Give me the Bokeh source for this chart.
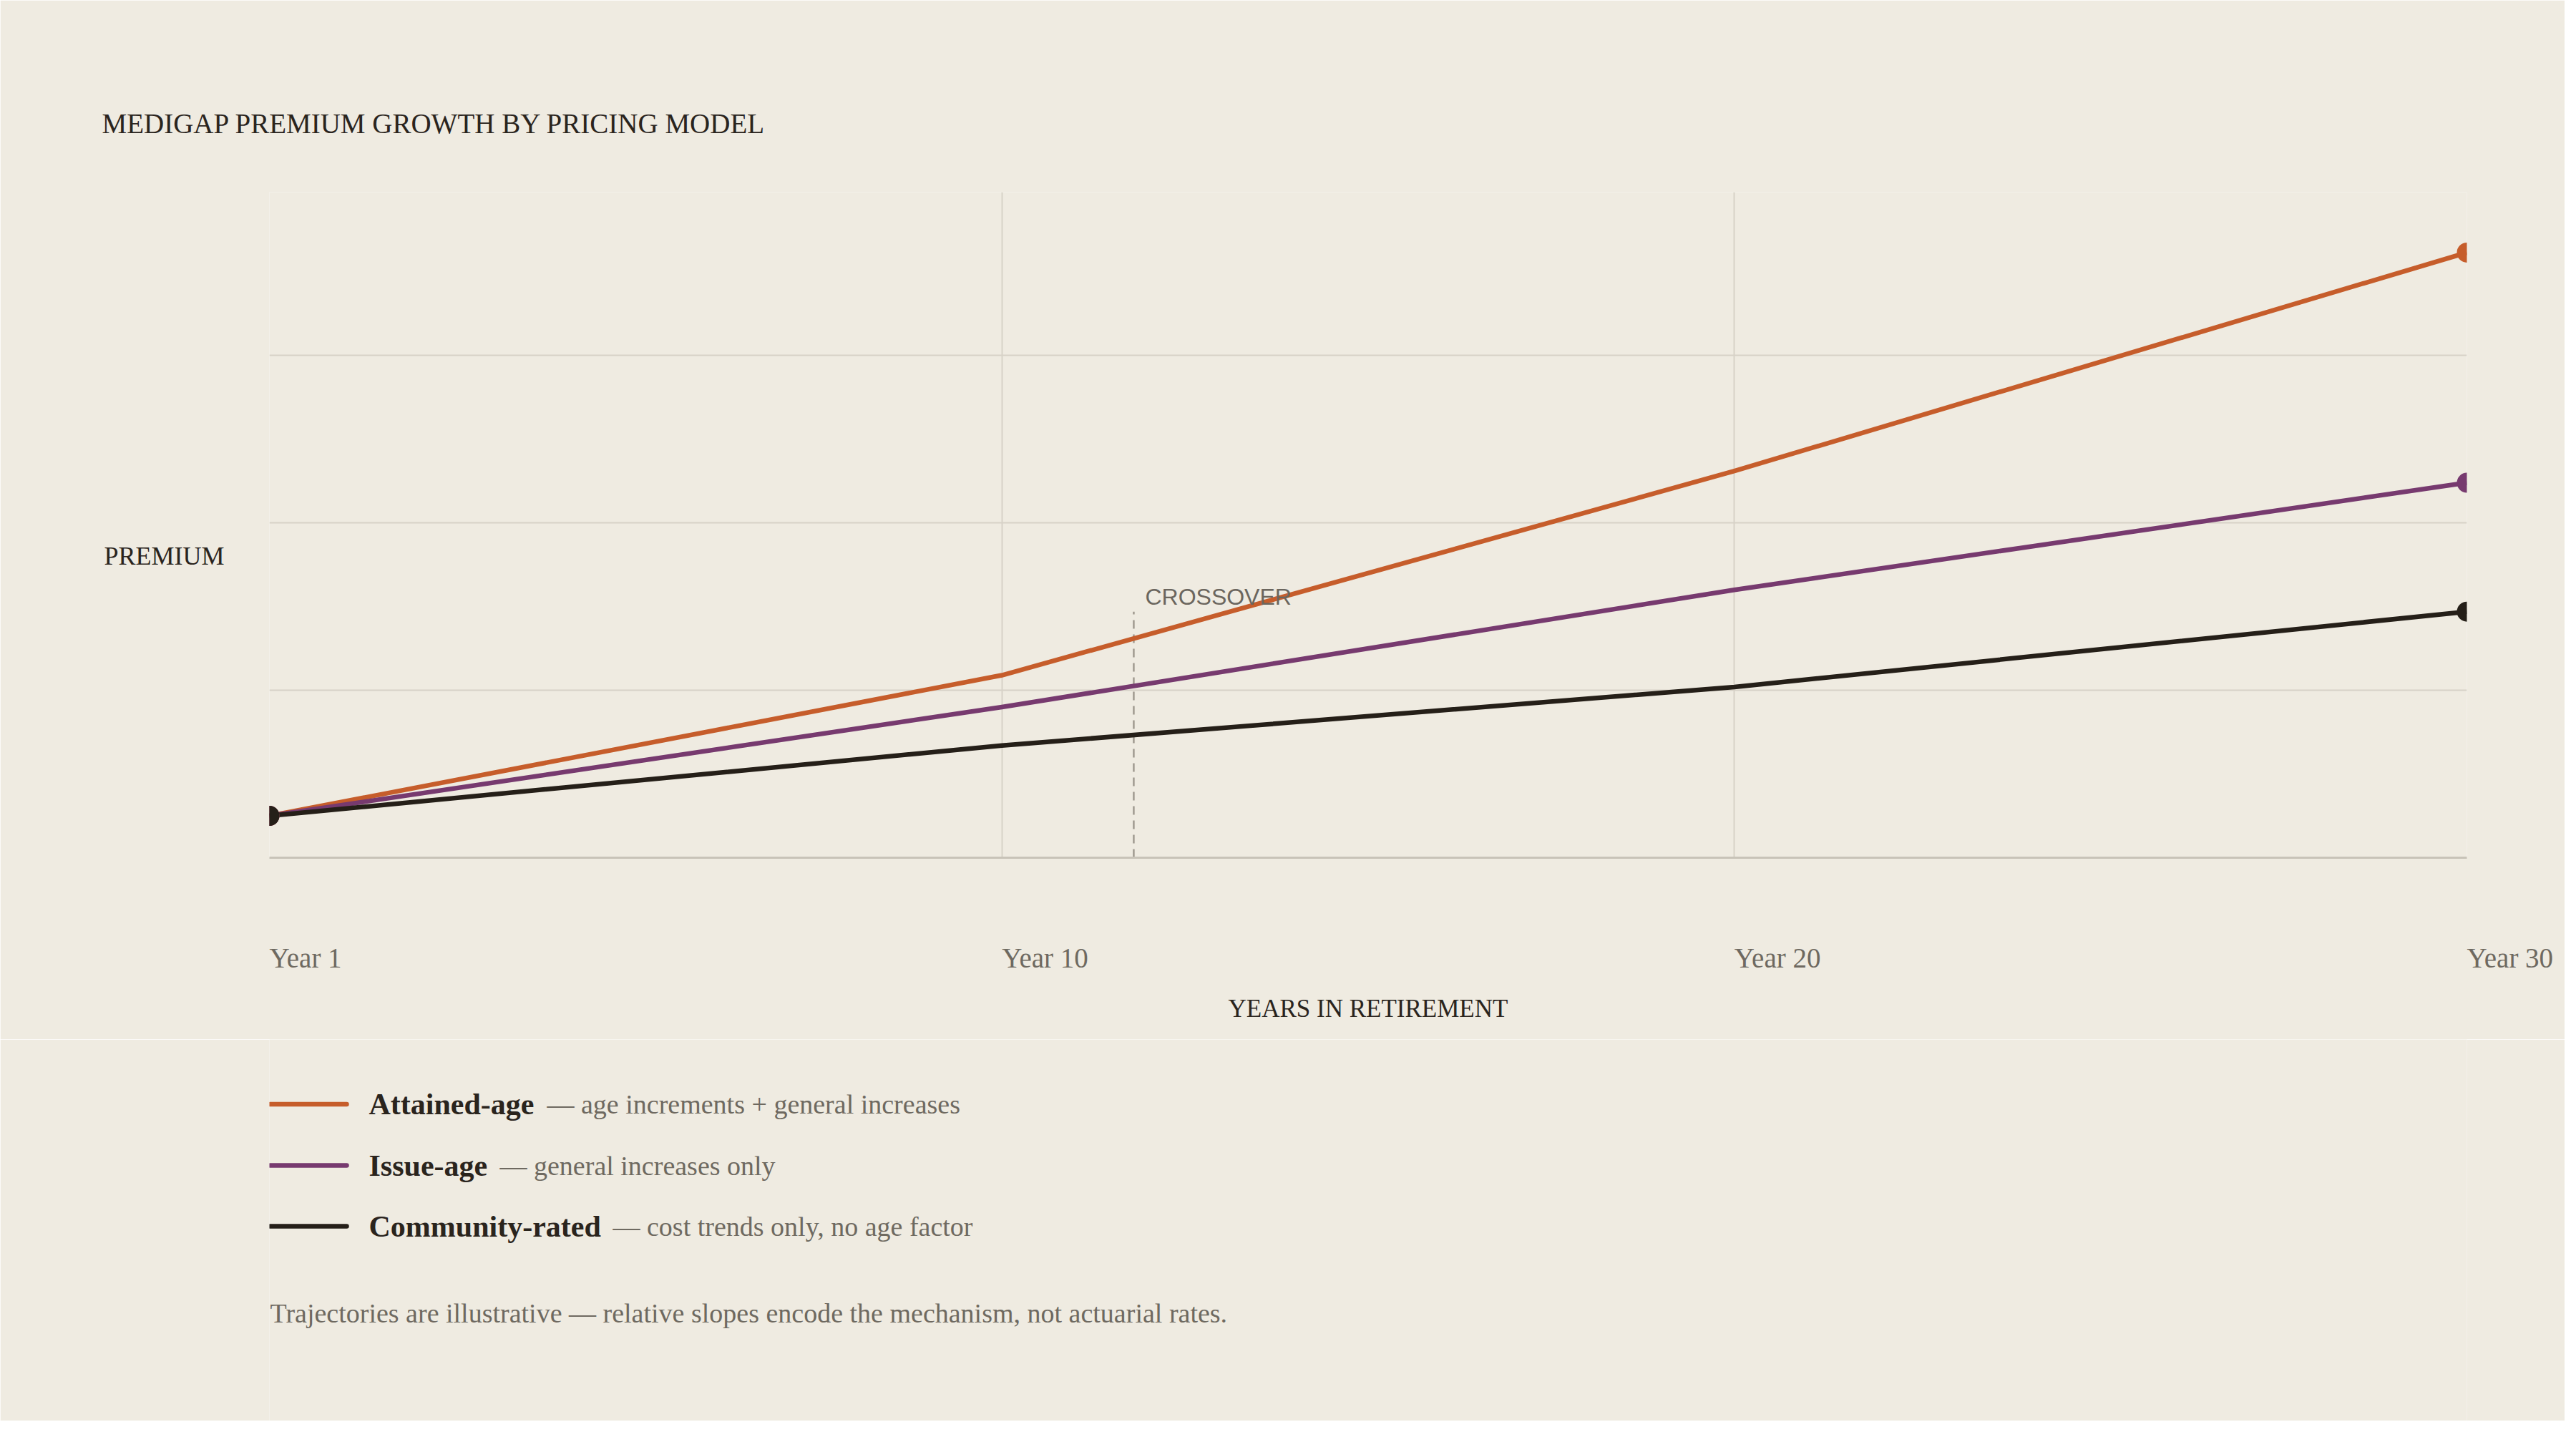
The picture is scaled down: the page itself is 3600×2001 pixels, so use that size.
from bokeh.plotting import figure
from bokeh.layouts import column
from bokeh.models import Range1d, FixedTicker, Label
from bokeh.core.properties import value
from bokeh.embed import file_html
from bokeh.resources import INLINE

# values (premium index, one gridline = 100)
year_labels = ["Year 1", "Year 10", "Year 20", "Year 30"]
year_pos = [0, 1, 2, 3]
attained_age = [25, 109, 231, 361.5]
issue_age = [25, 90, 160, 224]
community_rated = [25, 67, 102, 147]
series_names = ["Attained-age", "Issue-age", "Community-rated"]
series_notes = [
    "\u2014 age increments + general increases",
    "\u2014 general increases only",
    "\u2014 cost trends only, no age factor",
]
crossover_x = 1.18
crossover_top = 147
y_max = 397.6
grid_ticks = [100, 200, 300]
premium_label_y = 180   # where the "PREMIUM" caption sits on the y scale

BG = "#efebe1"
INK = "#2a241d"
GRAY = "#6e6960"
GRID = "#d7d2c7"
ORANGE = "#c65d2b"
PURPLE = "#773a6f"
BLACK = "#251f18"
COLORS = [ORANGE, PURPLE, BLACK]
SERIF = "Liberation Serif"

W = 3584
H1, H2 = 1452, 533          # chart block / legend block
B_LEFT, B_RIGHT, B_TOP = 376, 137, 268
B_BOTTOM = H1 - 1198
FRAME_W = W - B_LEFT - B_RIGHT

# ---------------- main chart ----------------
p = figure(
    width=W, height=H1,
    x_range=Range1d(0, 3), y_range=Range1d(0, y_max),
    title="MEDIGAP PREMIUM GROWTH BY PRICING MODEL",
    output_backend="svg", toolbar_location=None,
    min_border_left=B_LEFT, min_border_right=B_RIGHT,
    min_border_top=B_TOP, min_border_bottom=B_BOTTOM,
    background_fill_color=BG, border_fill_color=BG,
    outline_line_color=None,
)

p.title.align = "left"
p.title.offset = -234
p.title.text_font = SERIF
p.title.text_font_size = "39px"
p.title.text_font_style = "normal"
p.title.text_color = INK
p.title.standoff = 150

# grid
p.ygrid.ticker = FixedTicker(ticks=grid_ticks)
p.ygrid.grid_line_color = GRID
p.ygrid.grid_line_width = 2
p.xgrid.ticker = FixedTicker(ticks=year_pos)
p.xgrid.grid_line_color = GRID
p.xgrid.grid_line_width = 2

# x axis: left-aligned year labels (tiny negative angle -> left anchored)
xa = p.xaxis[0]
xa.ticker = FixedTicker(ticks=year_pos)
xa.major_label_overrides = {i: lab for i, lab in zip(year_pos, year_labels)}
xa.major_label_orientation = -1e-6
xa.major_label_text_font = SERIF
xa.major_label_text_font_size = "39px"
xa.major_label_text_color = GRAY
xa.major_label_standoff = 134
xa.major_tick_line_color = None
xa.minor_tick_line_color = None
xa.axis_line_color = "#c8c3b8"
xa.axis_line_width = 3
xa.axis_label = "YEARS IN RETIREMENT"
xa.axis_label_text_font = SERIF
xa.axis_label_text_font_size = "35px"
xa.axis_label_text_font_style = "normal"
xa.axis_label_text_color = INK
xa.axis_label_standoff = 5

# y axis: no scale, only the "PREMIUM" caption at mid height
ya = p.yaxis[0]
ya.ticker = FixedTicker(ticks=[premium_label_y])
ya.major_label_overrides = {premium_label_y: "PREMIUM"}
ya.major_label_text_font = SERIF
ya.major_label_text_font_size = "36px"
ya.major_label_text_color = INK
ya.major_label_standoff = 63
ya.axis_line_color = None
ya.major_tick_line_color = None
ya.minor_tick_line_color = None
ya.major_tick_out = 0

# crossover marker
p.segment(x0=[crossover_x], y0=[0], x1=[crossover_x], y1=[crossover_top],
          line_color="#a09a90", line_width=2.5, line_dash="12 8")
p.add_layout(Label(x=crossover_x, y=crossover_top, x_offset=16, y_offset=21,
                   text="CROSSOVER", text_font="Liberation Sans", text_font_size="32px",
                   text_color="#6b665e", text_baseline="alphabetic"))

# series
series = [attained_age, issue_age, community_rated]
for vals, col in zip(series, COLORS):
    p.line(year_pos, vals, line_color=col, line_width=6.5, line_join="round")
for vals, col in zip(series, COLORS):
    p.scatter([year_pos[-1]], [vals[-1]], size=28, fill_color=col, line_color=None)
for vals, col in zip(series, COLORS):
    p.scatter([year_pos[0]], [vals[0]], size=28, fill_color=col, line_color=None)

# ---------------- legend + note block ----------------
# frame lines up with the chart frame; x measured in px from its left edge
p2 = figure(
    width=W, height=H2,
    x_range=Range1d(0, FRAME_W), y_range=Range1d(H2, 0),
    x_axis_type=None, y_axis_type=None,
    output_backend="svg", toolbar_location=None,
    min_border_left=B_LEFT, min_border_right=B_RIGHT,
    min_border_top=0, min_border_bottom=0,
    background_fill_color=BG, border_fill_color=BG, outline_line_color=None,
)
p2.grid.visible = False

row_y = [90.5, 176, 261]
note_x = [388, 322, 480]
p2.segment(x0=[1] * 3, x1=[108] * 3, y0=row_y, y1=row_y,
           line_color=COLORS, line_width=6.5, line_cap="round")
p2.text(x=[139] * 3, y=row_y, text=series_names, text_font=value(SERIF),
        text_font_style="bold", text_font_size="42px", text_color=INK,
        text_baseline="middle")
p2.text(x=note_x, y=row_y, text=series_notes, text_font=value(SERIF),
        text_font_size="38px", text_color=GRAY, text_baseline="middle")
p2.text(x=[1], y=[382],
        text=["Trajectories are illustrative \u2014 relative slopes encode the mechanism, not actuarial rates."],
        text_font=value(SERIF), text_font_size="38px", text_color=GRAY,
        text_baseline="alphabetic")

layout = column(p, p2, spacing=0)
open("out.html", "w").write(file_html(layout, INLINE))
